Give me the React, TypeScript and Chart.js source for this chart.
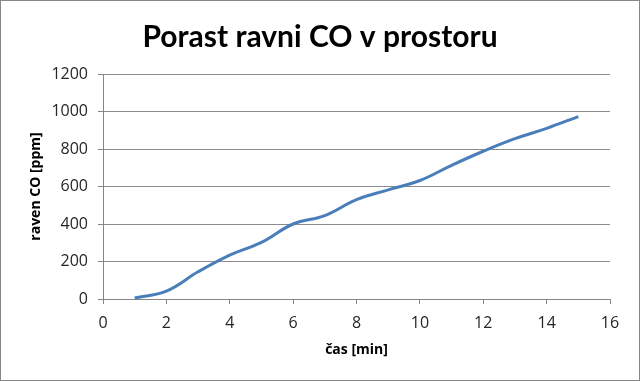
import React, { useEffect, useRef } from "react";
import { Chart, registerables } from "chart.js";

Chart.register(...registerables);

const titleText = "Porast ravni CO v prostoru";
const xTitle = "čas [min]";
const yTitle = "raven CO [ppm]";
const timeMin = [1, 2, 3, 4, 5, 6, 7, 8, 9, 10, 11, 12, 13, 14, 15];
const coPpm = [5, 42, 145, 234, 302, 400, 445, 530, 582, 632, 713, 788, 855, 910, 973];

export default function App() {
  const ref = useRef<HTMLCanvasElement>(null);
  useEffect(() => {
    document.body.style.margin = "0";
    const ctx = ref.current!;
    const chart = new Chart(ctx, {
      type: "line",
      data: {
        datasets: [
          {
            data: timeMin.map((x, i) => ({ x, y: coPpm[i] })),
            borderColor: "#4a7ebb",
            borderWidth: 3,
            pointRadius: 0,
            tension: 0.4,
            fill: false,
          },
        ],
      },
      options: {
        animation: false,
        responsive: false,
        layout: { padding: 0 },
        plugins: {
          legend: { display: false },
          tooltip: { enabled: false },
          title: {
            display: true,
            text: titleText,
            color: "#000",
            font: { family: "Lato, 'Open Sans', sans-serif", size: 30, weight: "bold", lineHeight: 1.2 },
            padding: { top: 18, bottom: 19 },
          },
        },
        scales: {
          x: {
            type: "linear",
            min: 0,
            max: 16,
            afterFit: (s: any) => { s.height = 81; },
            grid: { drawOnChartArea: false, drawTicks: true, tickLength: 5, tickColor: "#868686" },
            border: { display: true, color: "#868686", width: 1 },
            ticks: { stepSize: 2, color: "#262626", padding: 10, font: { family: "'Open Sans', sans-serif", size: 16 } },
            title: {
              display: true,
              text: xTitle,
              color: "#000",
              font: { family: "'Open Sans', sans-serif", size: 14, weight: "bold", lineHeight: 1.2 },
              padding: { top: 0, bottom: 22 },
            },
          },
          y: {
            min: 0,
            max: 1200,
            afterFit: (s: any) => { s.width = 102; },
            grid: { color: "#8c8c8c", lineWidth: 1, drawTicks: true, tickLength: 5, tickColor: "#868686" },
            border: { display: true, color: "#868686", width: 1 },
            ticks: {
              stepSize: 200,
              color: "#262626",
              padding: 10,
              font: { family: "'Open Sans', sans-serif", size: 16 },
              callback: (v: any) => String(v),
            },
            title: {
              display: true,
              text: yTitle,
              color: "#000",
              font: { family: "'Open Sans', sans-serif", size: 14, weight: "bold", lineHeight: 1.2 },
              padding: { top: 27, bottom: 0 },
            },
          },
          yRightSpace: {
            position: "right",
            display: true,
            afterFit: (s: any) => { s.width = 29; },
            grid: { display: false },
            border: { display: false },
            ticks: { display: false },
          },
        },
      },
    });
    return () => chart.destroy();
  }, []);
  return (
    <div style={{ width: 640, height: 381, boxSizing: "border-box", border: "1px solid #868686", background: "#fff" }}>
      <canvas ref={ref} width={638} height={379} style={{ display: "block" }} />
    </div>
  );
}
